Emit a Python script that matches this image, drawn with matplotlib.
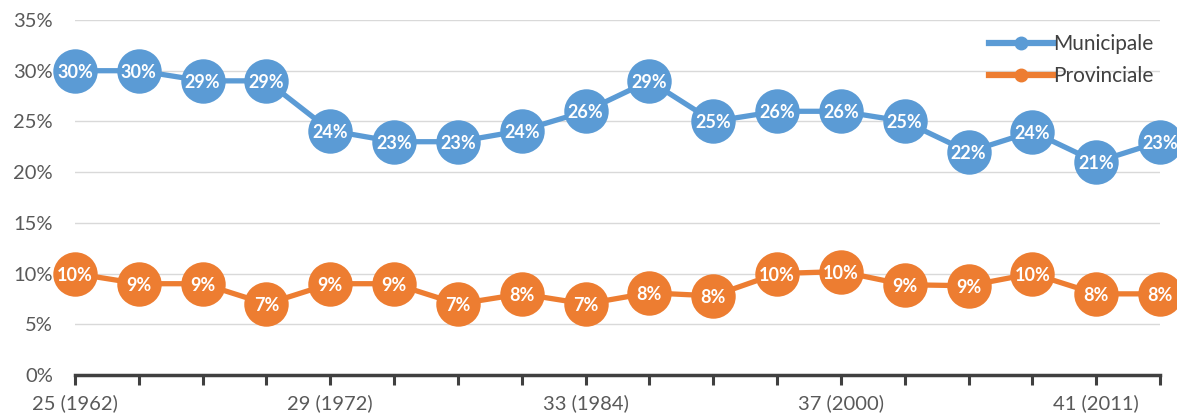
import matplotlib
matplotlib.use("Agg")
import matplotlib.pyplot as plt
from matplotlib.ticker import FixedLocator, FuncFormatter
from matplotlib.lines import Line2D

legislatures = [25, 26, 27, 28, 29, 30, 31, 32, 33, 34, 35, 36, 37, 38, 39, 40, 41, 42]
years = [1962, 1963, 1965, 1968, 1972, 1974, 1979, 1980, 1984, 1988, 1993, 1997,
         2000, 2004, 2006, 2008, 2011, 2015]
municipale = [30, 30, 29, 29, 24.1, 23, 23, 24.1, 26, 29, 25, 26, 26, 25, 22, 24, 21, 23]
provinciale = [10, 9, 9, 7, 9, 9, 7, 8, 7, 8.1, 7.8, 10, 10.2, 8.9, 8.8, 10, 8, 8]
shown_every = 4

blue = "#5B9BD5"
orange = "#ED7D31"
grey_text = "#595959"

plt.rcParams['font.family'] = ['Lato', 'DejaVu Sans']

fig = plt.figure(figsize=(11.77, 4.2), dpi=100)
ax = fig.add_axes([75/1177, 45/420, (1160-75)/1177, (375-20)/420])

x = list(range(len(legislatures)))
for vals, col, name in [(municipale, blue, "Municipale"), (provinciale, orange, "Provinciale")]:
    ax.plot(x, vals, color=col, lw=3.8, marker='o', markersize=32, markeredgewidth=0,
            clip_on=False, zorder=3, label=name)
    for xi, v in zip(x, vals):
        ax.text(xi, v - 0.15, f"{round(v):d}%", ha='center', va='center', color='white',
                fontsize=13, fontweight='bold', zorder=4)

ax.set_xlim(0, len(x) - 1)
ax.set_ylim(0, 35)
ax.yaxis.set_major_locator(FixedLocator([0, 5, 10, 15, 20, 25, 30, 35]))
ax.yaxis.set_major_formatter(FuncFormatter(lambda v, p: f"{int(v)}%"))
ax.set_xticks(x)
ax.set_xticklabels([f"{l} ({y})" if i % shown_every == 0 else "" for i, (l, y) in enumerate(zip(legislatures, years))])

ax.grid(axis='y', color='#D9D9D9', lw=1)
ax.set_axisbelow(True)
for s in ['top', 'right', 'left']:
    ax.spines[s].set_visible(False)
ax.spines['bottom'].set_color('#404040')
ax.spines['bottom'].set_linewidth(2.5)
ax.spines['bottom'].set_zorder(2)
ax.tick_params(axis='y', length=0, labelsize=14.5, labelcolor=grey_text, pad=16)
ax.tick_params(axis='x', length=7, width=2.2, color='#404040', labelsize=14.5,
               labelcolor=grey_text, pad=7)

handles = [Line2D([], [], color=blue, lw=4.5, marker='o', markersize=9),
           Line2D([], [], color=orange, lw=4.5, marker='o', markersize=9)]
leg = fig.legend(handles, ["Municipale", "Provinciale"], loc='upper right',
                 bbox_to_anchor=(1162/1177, 1 - 26/420), frameon=False, fontsize=15,
                 handlelength=3.1, handletextpad=0.0, labelspacing=0.55, borderaxespad=0)
for t in leg.get_texts():
    t.set_color('#404040')

fig.savefig("out.png", dpi=100)
